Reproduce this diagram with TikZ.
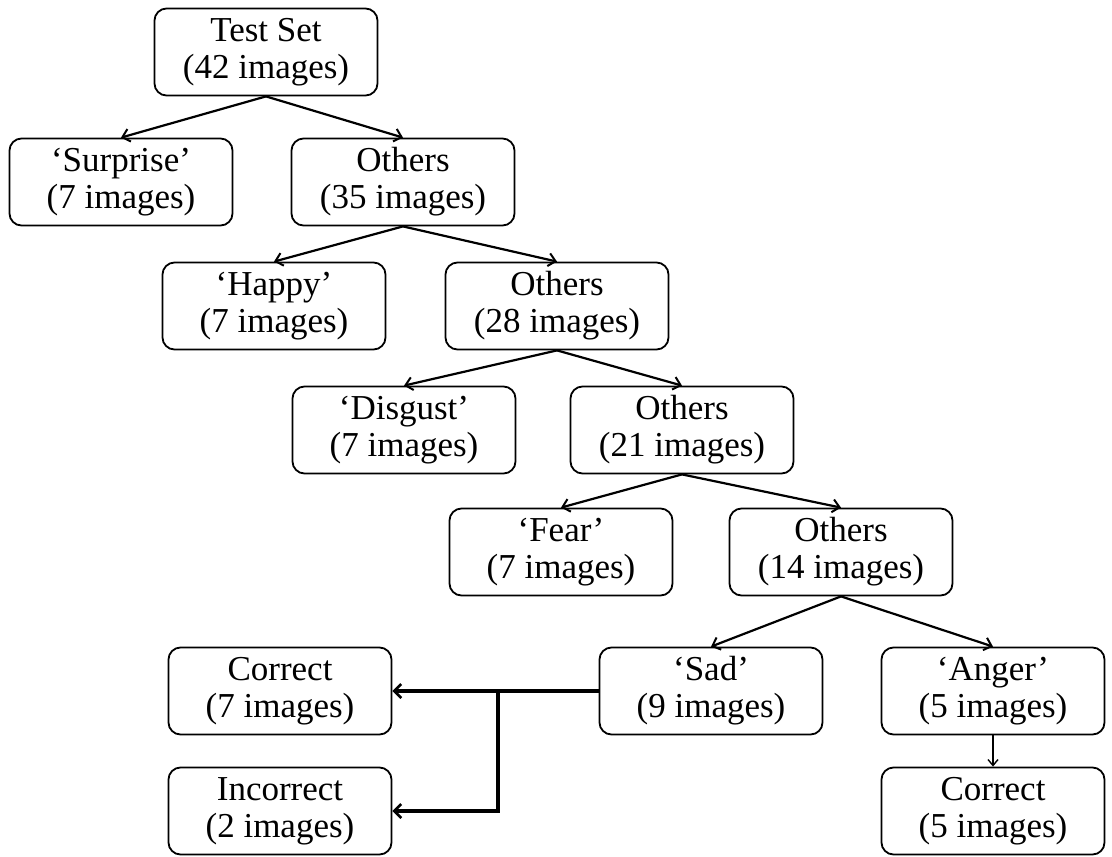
\documentclass[tikz,border=0pt]{standalone}
\usepackage{fontspec}
\setmainfont{Liberation Serif}
\usetikzlibrary{arrows.meta}
\newcommand\boxfont{\fontsize{35}{37}\selectfont}
\begin{document}
\begin{tikzpicture}[x=1pt,y=-1pt,
  box/.style={draw, line width=1.8pt, rounded corners=12pt,
    minimum width=223pt, minimum height=87pt, inner sep=0pt,
    align=center, font=\boxfont},
  arr/.style={line width=2.2pt, -{Straight Barb[length=7pt,width=13pt,line width=2pt]}},
  thinarr/.style={line width=1.4pt, -{Straight Barb[length=6pt,width=10pt,line width=1.4pt]}},
  brarr/.style={line width=3.2pt, -{Straight Barb[length=7pt,width=14pt,line width=2.6pt]}}]
\useasboundingbox (0,0) rectangle (1112,857);

% decision tree of the test set
\node[box] (test)     at (266,52)  {Test Set\\(42 images)};
\node[box] (surprise) at (121,182) {‘Surprise’\\(7 images)};
\node[box] (oth35)    at (403,182) {Others\\(35 images)};
\node[box] (happy)    at (274,306) {‘Happy’\\(7 images)};
\node[box] (oth28)    at (557,306) {Others\\(28 images)};
\node[box] (disgust)  at (404,430) {‘Disgust’\\(7 images)};
\node[box] (oth21)    at (682,430) {Others\\(21 images)};
\node[box] (fear)     at (561,552) {‘Fear’\\(7 images)};
\node[box] (oth14)    at (841,552) {Others\\(14 images)};
\node[box] (sad)      at (711,691) {‘Sad’\\(9 images)};
\node[box] (anger)    at (993,691) {‘Anger’\\(5 images)};
\node[box] (corr7)    at (280,691) {Correct\\(7 images)};
\node[box] (incorr)   at (280,811) {Incorrect\\(2 images)};
\node[box] (corr5)    at (993,811) {Correct\\(5 images)};

% splits
\draw[arr] (test.south)  -- (surprise.north);
\draw[arr] (test.south)  -- (oth35.north);
\draw[arr] (oth35.south) -- (happy.north);
\draw[arr] (oth35.south) -- (oth28.north);
\draw[arr] (oth28.south) -- (disgust.north);
\draw[arr] (oth28.south) -- (oth21.north);
\draw[arr] (oth21.south) -- (fear.north);
\draw[arr] (oth21.south) -- (oth14.north);
\draw[arr] (oth14.south) -- (sad.north);
\draw[arr] (oth14.south) -- (anger.north);
\draw[thinarr] (anger.south) -- (corr5.north);

% outcome of the 'Sad' class
\coordinate (j) at (498,691);
\draw[brarr] (sad.west) -- (corr7.east);
\draw[brarr] (j) |- (incorr.east);
\end{tikzpicture}
\end{document}
